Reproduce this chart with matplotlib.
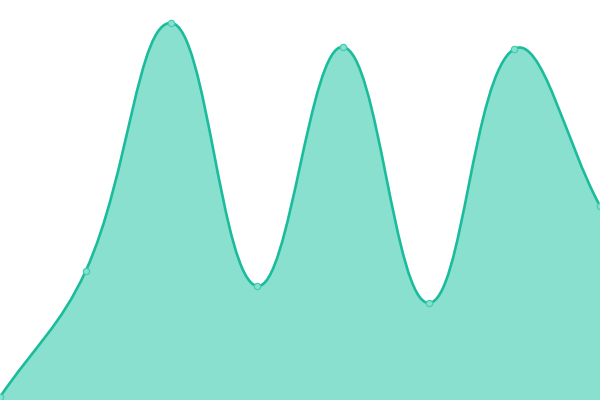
import matplotlib
matplotlib.use("Agg")
import matplotlib.pyplot as plt
from matplotlib.path import Path
from matplotlib.patches import PathPatch
import numpy as np

# data (arbitrary units)
x_pos = [0, 1, 2, 3, 4, 5, 6, 7]
values = [3, 129, 377, 114, 353, 97, 351, 194]

line_color = "#1abc9c"
fill_color = "#8ae0cf"
tension = 0.4

fig = plt.figure(figsize=(6, 4), dpi=100)
ax = fig.add_axes([0, 0, 1, 1])
ax.set_xlim(0, 7)
ax.set_ylim(0, 400)
ax.axis("off")

# spline control points worked out in pixel space (chart.js style tension)
pts = ax.transData.transform(np.column_stack([x_pos, values]))
n = len(pts)
cp_prev = np.zeros_like(pts)
cp_next = np.zeros_like(pts)
for i in range(n):
    prev = pts[i - 1] if i > 0 else pts[i]
    cur = pts[i]
    nxt = pts[i + 1] if i < n - 1 else pts[i]
    d01 = np.hypot(*(cur - prev))
    d12 = np.hypot(*(nxt - cur))
    s01 = d01 / (d01 + d12)
    s12 = d12 / (d01 + d12)
    cp_prev[i] = cur - tension * s01 * (nxt - prev)
    cp_next[i] = cur + tension * s12 * (nxt - prev)

# keep control points inside the plot area
bbox = ax.bbox
for cp in (cp_prev, cp_next):
    cp[:, 0] = np.clip(cp[:, 0], bbox.x0, bbox.x1)
    cp[:, 1] = np.clip(cp[:, 1], bbox.y0, bbox.y1)

inv = ax.transData.inverted()
verts = [pts[0]]
codes = [Path.MOVETO]
for i in range(n - 1):
    verts += [cp_next[i], cp_prev[i + 1], pts[i + 1]]
    codes += [Path.CURVE4] * 3
verts = inv.transform(np.array(verts))

line_path = Path(verts, codes)
area_verts = np.vstack([verts, [[x_pos[-1], 0], [x_pos[0], 0], verts[0]]])
area_codes = codes + [Path.LINETO, Path.LINETO, Path.CLOSEPOLY]
area_path = Path(area_verts, area_codes)

ax.add_patch(PathPatch(area_path, facecolor=fill_color, edgecolor="none"))
ax.add_patch(PathPatch(line_path, facecolor="none", edgecolor=line_color,
                       linewidth=1.9, capstyle="round", joinstyle="round"))
ax.plot(x_pos, values, "o", markersize=4.5, markerfacecolor=fill_color,
        markeredgecolor="#3fcfb2", markeredgewidth=0.9, clip_on=False)

fig.savefig("out.png", dpi=100)
